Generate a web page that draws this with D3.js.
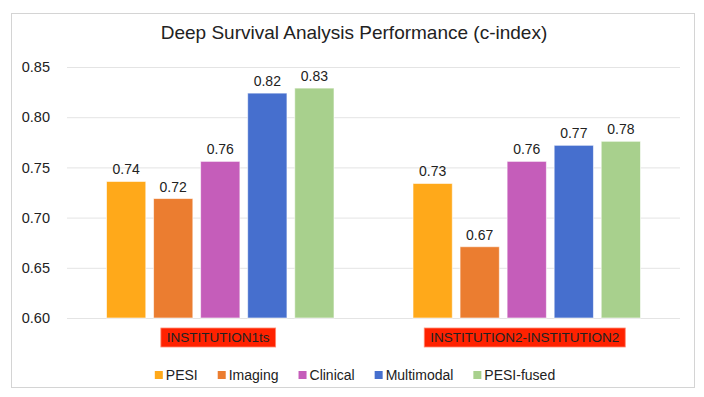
<!DOCTYPE html>
<html>
<head>
<meta charset="utf-8">
<script src="https://cdn.jsdelivr.net/npm/d3@7"></script>
<style>
  body { margin: 0; background: #fff; }
  svg { font-family: "Liberation Sans", Arial, sans-serif; }
</style>
</head>
<body>
<svg id="chart" width="704" height="397"></svg>
<script>
const title = "Deep Survival Analysis Performance (c-index)";
const groups = ["INSTITUTION1ts", "INSTITUTION2-INSTITUTION2"];
const series = ["PESI", "Imaging", "Clinical", "Multimodal", "PESI-fused"];
const colors = ["#FFA91A", "#EB7D30", "#C55DBA", "#466FCE", "#A8D08D"];
// values per series, one entry per group
const pesi = [0.736, 0.734];
const imaging = [0.719, 0.671];
const clinical = [0.756, 0.756];
const multimodal = [0.824, 0.772];
const pesi_fused = [0.829, 0.776];
const y_ticks = [0.60, 0.65, 0.70, 0.75, 0.80, 0.85];

const values = [pesi, imaging, clinical, multimodal, pesi_fused];
const svg = d3.select("#chart");

// frame
svg.append("rect")
	.attr("x", 11.5).attr("y", 13.5)
	.attr("width", 683).attr("height", 374)
	.attr("fill", "#fff").attr("stroke", "#d4d4d4");

svg.append("text")
	.attr("x", 354).attr("y", 39)
	.attr("text-anchor", "middle")
	.style("font-size", "19px").style("fill", "#222")
	.text(title);

const plot_left = 67, plot_right = 680;
const y = d3.scaleLinear().domain([0.60, 0.85]).range([318, 67]);
const x0 = d3.scaleBand().domain(groups).range([plot_left, plot_right]);
const x1 = d3.scaleBand().domain(series).range([39.5, 267]).paddingInner(0.165);

// gridlines + tick labels
const y_axis = d3.axisLeft(y).tickValues(y_ticks).tickFormat(d3.format(".2f"))
	.tickSize(-(plot_right - plot_left)).tickPadding(17);
const ga = svg.append("g").attr("transform", `translate(${plot_left},0)`).call(y_axis);
ga.select(".domain").remove();
ga.selectAll(".tick line").attr("stroke", "#e4e4e4");
ga.selectAll(".tick text").style("font-size", "14.5px").style("fill", "#222")
	.attr("font-family", "Liberation Sans, Arial, sans-serif");

// bars
const rows = [];
groups.forEach((g, gi) => series.forEach((s, si) => rows.push({g, s, si, v: values[si][gi]})));

svg.append("g").selectAll("rect").data(rows).enter()
	.append("rect")
	.attr("x", d => x0(d.g) + x1(d.s))
	.attr("width", x1.bandwidth())
	.attr("y", d => y(d.v))
	.attr("height", d => y(0.60) - y(d.v))
	.attr("fill", d => colors[d.si])
	.attr("stroke", "#fff").attr("stroke-opacity", 0.6).attr("stroke-width", 1);

svg.append("g").selectAll("text").data(rows).enter()
	.append("text")
	.attr("x", d => x0(d.g) + x1(d.s) + x1.bandwidth() / 2)
	.attr("y", d => y(d.v) - 7)
	.attr("text-anchor", "middle")
	.style("font-size", "14px").style("fill", "#222")
	.text(d => d3.format(".2f")(d.v));

// category labels with red boxes
groups.forEach(g => {
	const cx = x0(g) + x0.bandwidth() / 2 - 2;
	const lg = svg.append("g");
	const box = lg.append("rect").attr("fill", "#FF2200").attr("stroke", "#ff8a70").attr("stroke-width", 0.8);
	const t = lg.append("text")
		.attr("x", cx).attr("y", 342)
		.attr("text-anchor", "middle")
		.style("font-size", "13.5px").style("fill", "#222")
		.text(g);
	const w = t.node().getComputedTextLength();
	box.attr("x", cx - w / 2 - 6).attr("y", 328).attr("width", w + 12).attr("height", 19);
});

// legend
const leg = svg.append("g");
let lx = 0;
series.forEach((s, i) => {
	const item = leg.append("g").attr("transform", `translate(${lx},0)`);
	item.append("rect").attr("x", 0).attr("y", 371).attr("width", 8).attr("height", 8).attr("fill", colors[i]);
	const t = item.append("text").attr("x", 11).attr("y", 380)
		.style("font-size", "14px").style("fill", "#222").text(s);
	lx += 11 + t.node().getComputedTextLength() + 20;
});
const leg_w = lx - 20;
leg.attr("transform", `translate(${355 - leg_w / 2},0)`);
</script>
</body>
</html>
